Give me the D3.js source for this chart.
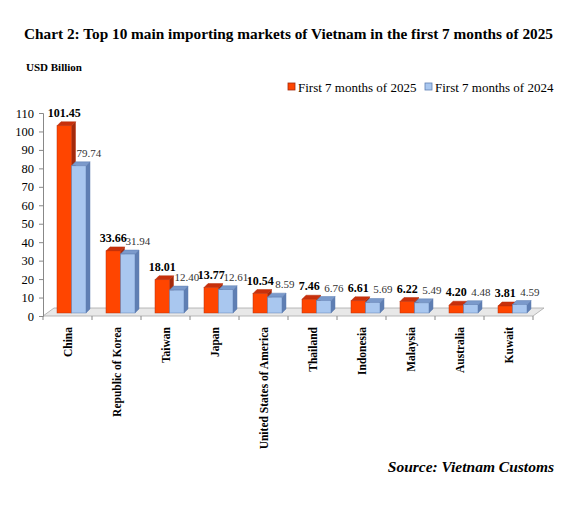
<!DOCTYPE html>
<html>
<head>
<meta charset="utf-8">
<script src="https://cdn.jsdelivr.net/npm/d3@7"></script>
<style>
  body { margin: 0; background: #fff; }
  svg text { font-family: 'Liberation Serif', 'Times New Roman', serif; }
</style>
</head>
<body>
<svg width="578" height="518" font-family="'Liberation Serif', 'Times New Roman', serif"></svg>
<script>
'use strict'

const countries = ['China', 'Republic of Korea', 'Taiwan', 'Japan', 'United States of America',
  'Thailand', 'Indonesia', 'Malaysia', 'Australia', 'Kuwait']
const values2025 = [101.45, 33.66, 18.01, 13.77, 10.54, 7.46, 6.61, 6.22, 4.20, 3.81]
const values2024 = [79.74, 31.94, 12.40, 12.61, 8.59, 6.76, 5.69, 5.49, 4.48, 4.59]
const seriesNames = ['First 7 months of 2025', 'First 7 months of 2024']
const yTicks = [0, 10, 20, 30, 40, 50, 60, 70, 80, 90, 100, 110]

const serif = "'Liberation Serif', 'Times New Roman', serif"
const svg = d3.select('svg')

// 3D look
const floorDx = 11, floorDy = -8
const barDx = 4, barDy = -4
const shift = -3 // bars sit a bit back on the floor

const faces = {
  y2025: { front: '#ff4500', top: '#c8300c', side: '#a32a0c', stroke: '#b8300c' },
  y2024: { front: '#a9c7ef', top: '#7b9acb', side: '#5f7fb3', stroke: '#5f7fb3' }
}

const x = d3.scaleBand().domain(countries).range([43, 533])
const xs = d3.scaleBand().domain(['y2025', 'y2024']).range([14, 43])
const y = d3.scaleLinear().domain([0, 110]).range([316, 113])

const rows = countries.map((c, i) => ({ c, y2025: values2025[i], y2024: values2024[i] }))

// title
svg.append('text').attr('x', 24).attr('y', 39)
  .style('font-size', '15.3px').style('font-weight', 'bold')
  .text('Chart 2: Top 10 main importing markets of Vietnam in the first 7 months of 2025')

svg.append('text').attr('x', 26).attr('y', 71)
  .style('font-size', '11px').style('font-weight', 'bold')
  .text('USD Billion')

// legend
const legend = svg.append('g')
const legendX = [288, 425]
seriesNames.forEach((name, i) => {
  const k = i === 0 ? 'y2025' : 'y2024'
  legend.append('rect').attr('x', legendX[i]).attr('y', 83).attr('width', 7).attr('height', 7)
    .style('fill', faces[k].front).style('stroke', faces[k].side).style('stroke-width', 0.8)
  legend.append('text').attr('x', legendX[i] + 10).attr('y', 92)
    .style('font-size', '13px').text(name)
})

// floor
const x0 = x.range()[0], x1 = x.range()[1], y0 = y(0)
svg.append('polygon')
  .attr('points', [[x0, y0], [x1, y0], [x1 + floorDx, y0 + floorDy], [x0 + floorDx, y0 + floorDy]].join(' '))
  .style('fill', '#e8e8e8').style('stroke', '#a8a8a8').style('stroke-width', 0.8)

// y axis
const yAxis = svg.append('g').attr('transform', `translate(${x0},0)`)
  .call(d3.axisLeft(y).tickValues(yTicks).tickSize(4).tickPadding(5))
yAxis.attr('font-family', serif).attr('font-size', 12.5)
yAxis.select('.domain').style('stroke', '#888')
yAxis.selectAll('.tick line').style('stroke', '#888')
yAxis.selectAll('.tick text').style('fill', '#000')

// x axis ticks at band edges
svg.selectAll('line.xtick').data(countries.concat(['end']))
  .enter().append('line').classed('xtick', true)
  .attr('x1', (d, i) => x0 + i * x.step()).attr('x2', (d, i) => x0 + i * x.step())
  .attr('y1', y0).attr('y2', y0 + 4)
  .style('stroke', '#888')

// bars
const bars = svg.append('g')
rows.forEach((r) => {
  ['y2025', 'y2024'].forEach((k) => {
    const bx = x(r.c) + xs(k)
    const w = xs.bandwidth()
    const top = y(r[k]) + shift
    const bottom = y0 + shift
    const f = faces[k]
    const g = bars.append('g')
    g.append('polygon')
      .attr('points', [[bx + w, top], [bx + w + barDx, top + barDy], [bx + w + barDx, bottom + barDy], [bx + w, bottom]].join(' '))
      .style('fill', f.side).style('stroke', f.stroke).style('stroke-width', 0.5)
    g.append('polygon')
      .attr('points', [[bx, top], [bx + w, top], [bx + w + barDx, top + barDy], [bx + barDx, top + barDy]].join(' '))
      .style('fill', f.top).style('stroke', f.stroke).style('stroke-width', 0.5)
    g.append('rect').attr('x', bx).attr('y', top).attr('width', w).attr('height', bottom - top)
      .style('fill', f.front).style('stroke', f.stroke).style('stroke-width', 0.5)
  })
})

// value labels
svg.selectAll('text.lab24').data(rows).enter().append('text').classed('lab24', true)
  .attr('x', (d) => x(d.c) + xs('y2024') + xs.bandwidth() / 2 + 10)
  .attr('y', (d) => y(d.y2024) + shift - 9)
  .attr('text-anchor', 'middle')
  .style('font-size', '11px').style('fill', '#333')
  .text((d) => d3.format('.2f')(d.y2024))

svg.selectAll('text.lab25').data(rows).enter().append('text').classed('lab25', true)
  .attr('x', (d) => x(d.c) + xs('y2025') + xs.bandwidth() / 2)
  .attr('y', (d) => y(d.y2025) + shift - 9)
  .attr('text-anchor', 'middle')
  .style('font-size', '12px').style('font-weight', 'bold')
  .text((d) => d3.format('.2f')(d.y2025))

// category labels
svg.selectAll('text.cat').data(countries).enter().append('text').classed('cat', true)
  .attr('transform', (d) => `translate(${x(d) + x.bandwidth() / 2},327) rotate(-90)`)
  .attr('text-anchor', 'end').attr('dy', '0.35em')
  .style('font-size', '11.5px').style('font-weight', 'bold')
  .text((d) => d)

// source
svg.append('text').attr('x', 554).attr('y', 472).attr('text-anchor', 'end')
  .style('font-size', '15.5px').style('font-weight', 'bold').style('font-style', 'italic')
  .text('Source: Vietnam Customs')
</script>
</body>
</html>
